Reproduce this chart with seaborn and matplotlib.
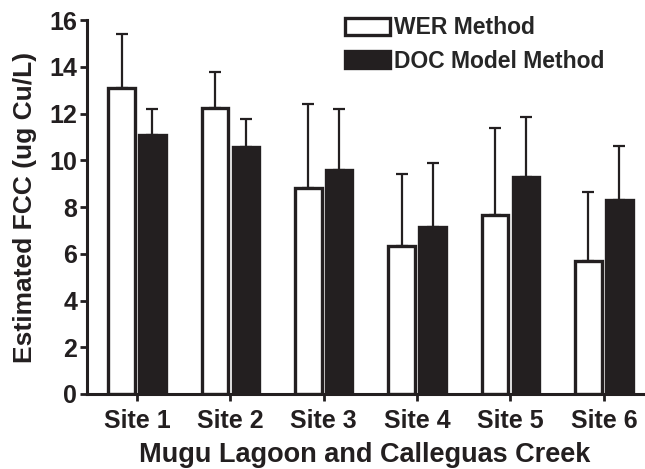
import numpy as np
import pandas as pd
import matplotlib
matplotlib.use("Agg")
import matplotlib.pyplot as plt
import seaborn as sns

sites = ["Site 1", "Site 2", "Site 3", "Site 4", "Site 5", "Site 6"]
methods = ["WER Method", "DOC Model Method"]
wer_mean = [13.1, 12.25, 8.8, 6.35, 7.65, 5.7]
wer_upper = [15.4, 13.8, 12.4, 9.4, 11.4, 8.65]
doc_mean = [11.1, 10.55, 9.6, 7.15, 9.3, 8.3]
doc_upper = [12.2, 11.75, 12.2, 9.9, 11.85, 10.6]
yticks = [0, 2, 4, 6, 8, 10, 12, 14, 16]

INK = "#231f20"

sns.set_theme(style="ticks")
plt.rcParams["font.family"] = ["Liberation Sans", "DejaVu Sans"]
plt.rcParams["font.weight"] = "bold"

df = pd.DataFrame({
    "site": sites * 2,
    "method": [methods[0]] * len(sites) + [methods[1]] * len(sites),
    "value": wer_mean + doc_mean,
})

fig = plt.figure(figsize=(6.45, 4.69), dpi=100)
ax = fig.add_axes([0.135, 0.16, 0.862, 0.797])

sns.barplot(data=df, x="site", y="value", hue="method", order=sites,
            hue_order=methods, palette=["white", INK], saturation=1,
            edgecolor=INK, linewidth=2.4, width=0.66, gap=0.14,
            errorbar=None, ax=ax, zorder=2)

uppers = [wer_upper, doc_upper]
means = [wer_mean, doc_mean]
for cont, up, mn in zip(ax.containers, uppers, means):
    xs = [p.get_x() + p.get_width() / 2 for p in cont.patches]
    err = np.array(up) - np.array(mn)
    ax.errorbar(xs, mn, yerr=[np.zeros_like(err), err], fmt="none",
                ecolor=INK, elinewidth=1.6, capsize=4, capthick=1.6, zorder=1)

ax.set_ylim(0, 16)
ax.set_yticks(yticks)
ax.set_xlim(-0.535, 5.42)
sns.despine(ax=ax)
for s in ["left", "bottom"]:
    ax.spines[s].set_linewidth(2.2)
    ax.spines[s].set_color(INK)
ax.tick_params(axis="both", length=5, width=2, color=INK, labelsize=18,
               labelcolor=INK, pad=2)
ax.tick_params(axis="x", pad=6)
for lab in ax.get_xticklabels() + ax.get_yticklabels():
    lab.set_fontweight("bold")

ax.set_xlabel("Mugu Lagoon and Calleguas Creek", fontsize=19.5,
              fontweight="bold", color=INK, labelpad=6)
ax.set_ylabel("Estimated FCC (ug Cu/L)", fontsize=19, fontweight="bold",
              color=INK, labelpad=9)

handles, labels = ax.get_legend_handles_labels()
ax.legend(handles, labels, loc="upper left", bbox_to_anchor=(0.535, 0.965),
          bbox_transform=fig.transFigure, frameon=False,
          prop={"size": 16.5, "weight": "bold"}, handlelength=1.95,
          handleheight=0.75, handletextpad=0.2, labelspacing=0.45,
          borderaxespad=0, borderpad=0)

fig.savefig("out.png", dpi=100)
